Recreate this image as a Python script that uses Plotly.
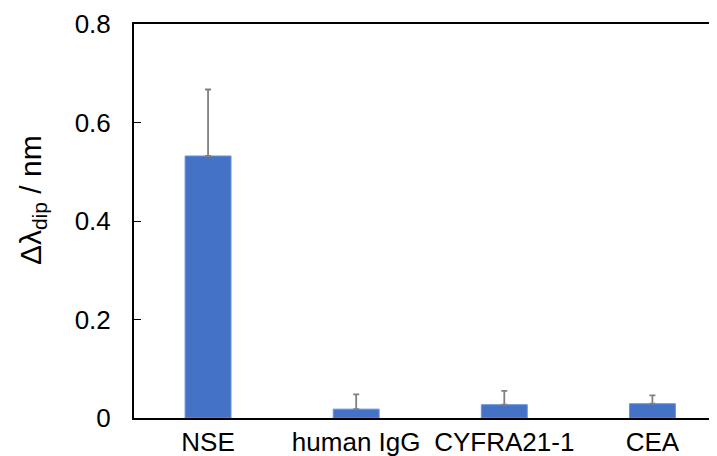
import plotly.graph_objects as go

categories = ["NSE", "human IgG", "CYFRA21-1", "CEA"]
values = [0.532, 0.018, 0.027, 0.029]
errors = [0.135, 0.030, 0.028, 0.017]
y_ticks = [0, 0.2, 0.4, 0.6, 0.8]
y_tick_labels = ["0", "0.2", "0.4", "0.6", "0.8"]
y_title = "Δλ<sub>dip</sub> / nm"

fig = go.Figure()
fig.add_trace(go.Bar(
    x=categories, y=values, width=0.31,
    marker=dict(color="#4472C4", line=dict(color="#6A93D8", width=1)),
    error_y=dict(type="data", array=errors, symmetric=False, arrayminus=[0]*4,
                 color="#808080", thickness=1.8, width=3),
))

fig.update_layout(
    width=717, height=456,
    margin=dict(l=126, r=0, t=16, b=46),
    plot_bgcolor="white", paper_bgcolor="white",
    font=dict(family="Liberation Sans, Arial, sans-serif", color="black"),
    showlegend=False,
    xaxis=dict(
        range=[-0.5, 3.49], showline=True, linecolor="black", linewidth=2,
        mirror=True, ticks="", tickfont=dict(size=26), showgrid=False,
        ticklabelstandoff=0, automargin=False,
    ),
    yaxis=dict(
        range=[0, 0.8], tickvals=y_ticks, ticktext=y_tick_labels,
        showline=True, linecolor="black", linewidth=2, ticks="inside",
        ticklen=7, tickwidth=1, tickcolor="black", tickfont=dict(size=26),
        showgrid=False, zeroline=False, ticklabelstandoff=16, automargin=False,
    ),
    annotations=[dict(
        text=y_title, textangle=-90, xref="paper", yref="paper",
        x=-0.1726, y=0.553, xanchor="center", yanchor="middle",
        showarrow=False, font=dict(size=30, color="black"),
    )],
)

fig.write_html("out.html")
